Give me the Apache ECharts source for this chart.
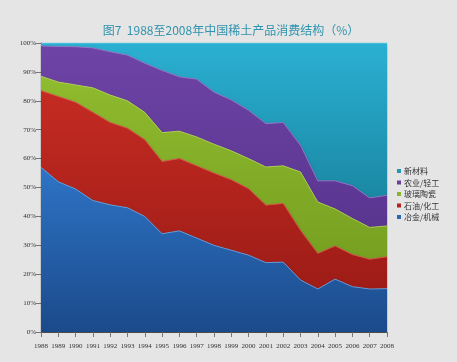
<!DOCTYPE html>
<html><head><meta charset="utf-8">
<script src="https://cdn.jsdelivr.net/npm/echarts@6/dist/echarts.min.js"></script>
<style>html,body{margin:0;padding:0;background:#e5e5e5}#c{width:457px;height:362px}</style>
</head><body><div id="c"></div>
<script>
const years = ['1988','1989','1990','1991','1992','1993','1994','1995','1996','1997','1998','1999','2000','2001','2002','2003','2004','2005','2006','2007','2008'];
const yTicks = ['0%','10%','20%','30%','40%','50%','60%','70%','80%','90%','100%'];
const metallurgy = [57,52,49.5,45.5,44,43,40,34,35,32.5,30,28.3,26.6,24,24.2,18,14.9,18.3,15.7,14.9,15];
const petroChem = [26.5,29.5,30,30.5,28.5,27.5,26.5,25,25,25,25,24.4,23,19.9,20.3,17.2,12.3,11.5,11.1,10.3,11];
const glassCeramic = [5,5,6,8.5,9.5,9.5,9.5,10,9.5,10,10,10,10.4,13.2,13,20.2,17.8,12.8,12.5,11,10.7];
const agriLight = [10.5,12.3,13.2,13.8,15,15.8,17,21.5,18.8,20,18,17.6,16.7,15,15,9.2,7.3,9.7,11.3,10.2,10.6];
const newMaterial = [1,1.2,1.3,1.7,3,4.2,7,9.5,11.7,12.5,17,19.7,23.3,27.9,27.5,35.4,47.7,47.7,49.4,53.6,52.7];
const names = ['冶金/机械','石油/化工','玻璃陶瓷','农业/轻工','新材料'];

function grad(a,b){return new echarts.graphic.LinearGradient(0,0,0,1,[{offset:0,color:a},{offset:1,color:b}]);}
const fills = [grad('#2e74c6','#1b4a8a'),grad('#c42b22','#9e1c17'),grad('#8fbb2e','#77a021'),grad('#6e44a6','#5a3590'),grad('#2bb0d2','#1a88a4')];
const lines = ['#6aa6e8','#e2554a','#b6d85a','#9a78cc','#6fd6ea'];
const legendColors = ['#2b66b4','#b4231c','#8bb42d','#6a3f9e','#2596b8'];
const datas = [metallurgy,petroChem,glassCeramic,agriLight,newMaterial];

const series = names.map((n,i)=>({
  name:n,type:'line',stack:'all',symbol:'none',data:datas[i],
  lineStyle:{width:1,color:lines[i],opacity:0.8},
  itemStyle:{color:legendColors[i]},
  areaStyle:{color:fills[i],opacity:1,shadowBlur:3,shadowColor:'rgba(0,0,0,0.35)',shadowOffsetY:1},
  z:10-i
}));

const chart = echarts.init(document.getElementById('c'));
chart.setOption({
  backgroundColor:'#e5e5e5',
  animation:false,
  title:{text:'图7  1988至2008年中国稀土产品消费结构（%）',left:226,top:19,textAlign:'center',
    textStyle:{fontSize:12,fontWeight:'normal',color:'#2f93ad',fontFamily:'Noto Sans CJK SC'}},
  legend:{orient:'vertical',left:392,top:161,itemWidth:4,itemHeight:4,itemGap:1.5,
    icon:'rect',data:['新材料','农业/轻工','玻璃陶瓷','石油/化工','冶金/机械'],
    textStyle:{fontSize:8,lineHeight:10,color:'#333',fontFamily:'Noto Sans CJK SC',padding:[0,0,0,-2]}},
  grid:{left:41,right:70,top:43,bottom:30},
  xAxis:{type:'category',data:years,boundaryGap:false,
    axisLine:{lineStyle:{color:'#555'}},axisTick:{show:true,lineStyle:{color:'#777'}},
    axisLabel:{fontSize:7,color:'#333',margin:11,interval:0,fontFamily:'Liberation Serif'}},
  yAxis:{type:'value',min:0,max:100,interval:10,
    axisLine:{show:true,lineStyle:{color:'#555'}},axisTick:{show:true,lineStyle:{color:'#777'}},
    splitLine:{show:false},
    axisLabel:{fontSize:7,color:'#333',margin:5,fontFamily:'Liberation Serif',formatter:(v)=>yTicks[Math.round(v/10)]}},
  series:series
});
</script></body></html>
